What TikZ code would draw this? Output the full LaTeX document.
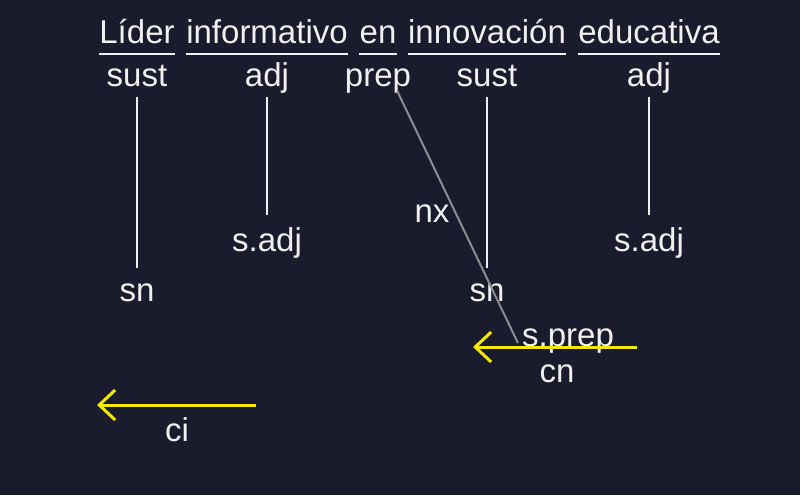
\documentclass[tikz,border=0pt]{standalone}
\usepackage{fontspec}
\setmainfont{Liberation Sans}
\usetikzlibrary{arrows.meta}
\definecolor{bg}{RGB}{27,27,46}
\definecolor{txt}{RGB}{240,240,240}
\definecolor{ylw}{RGB}{240,235,0}
\definecolor{gline}{RGB}{140,140,145}
\begin{document}
\begin{tikzpicture}[x=1pt,y=-1pt,
  lbl/.style={text=txt,font=\fontsize{33}{38}\selectfont,anchor=base,inner sep=0pt},
  uline/.style={draw=txt,line width=2pt},
  vline/.style={draw=txt,line width=2pt},
  yarrow/.style={draw=ylw,line width=3pt,-{Straight Barb[length=16pt,width=30pt,line width=3pt]}},
  gl/.style={draw=gline,line width=2pt}]
\fill[bg] (0,0) rectangle (800,495);
\useasboundingbox (0,0) rectangle (800,495);
% header words
\node[lbl] (w1) at (137,44) {Líder};
\node[lbl] (w2) at (267,44) {informativo};
\node[lbl] (w3) at (378,44) {en};
\node[lbl] (w4) at (487,44) {innovación};
\node[lbl] (w5) at (649,44) {educativa};
\foreach \w in {w1,w2,w3,w4,w5}{
  \draw[uline] ([yshift=-10pt]\w.base west) -- ([yshift=-10pt]\w.base east);
}
% categories
\node[lbl] (c1) at (137,86) {sust};
\node[lbl] (c2) at (267,86) {adj};
\node[lbl] (c3) at (378,86) {prep};
\node[lbl] (c4) at (487,86) {sust};
\node[lbl] (c5) at (649,86) {adj};
% functions
\node[lbl] (sn1) at (137,301) {sn};
\node[lbl] (sa1) at (267,251) {s.adj};
\node[lbl] (sn2) at (487,301) {sn};
\node[lbl] (sa2) at (649,251) {s.adj};
\node[lbl] (nx) at (432,222) {nx};
\node[lbl] (sp) at (568,346) {s.prep};
\node[lbl] (cn) at (557,382) {cn};
\node[lbl] (ci) at (177,441) {ci};
% vertical connectors
\draw[vline] ([yshift=-11pt]c1.base) -- ([yshift=33pt]sn1.base);
\draw[vline] ([yshift=-11pt]c2.base) -- ([yshift=36pt]sa1.base);
\draw[vline] ([yshift=-11pt]c4.base) -- ([yshift=33pt]sn2.base);
\draw[vline] ([yshift=-11pt]c5.base) -- ([yshift=36pt]sa2.base);
% gray connector
\draw[gl] ([xshift=-14pt,yshift=-5pt]c3.base east) -- ([xshift=-4pt,yshift=3pt]sp.base west);
% yellow arrows
\coordinate (a1s) at (637,347);
\coordinate (a1e) at (473,347);
\draw[yarrow] (a1s) -- (a1e);
\coordinate (a2s) at (256,405);
\coordinate (a2e) at (97,405);
\draw[yarrow] (a2s) -- (a2e);
\end{tikzpicture}
\end{document}
